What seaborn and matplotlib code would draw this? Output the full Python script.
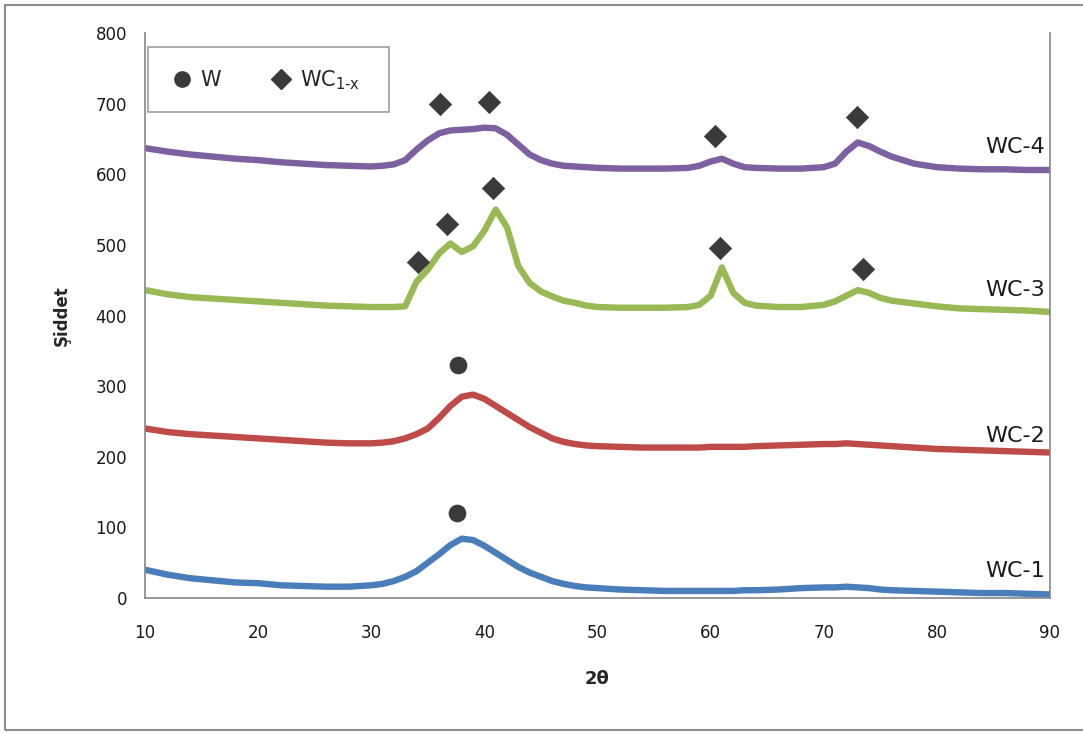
import matplotlib
matplotlib.use("Agg")
import matplotlib.pyplot as plt
import seaborn as sns
import pandas as pd
from matplotlib.lines import Line2D
from matplotlib.patches import Rectangle

# ---- data -------------------------------------------------------------
two_theta = [10, 12, 14, 16, 18, 20, 22, 24, 26, 28, 30, 31, 32, 33, 34, 35, 36, 37, 38, 39,
             40, 41, 42, 43, 44, 45, 46, 47, 48, 49, 50, 52, 54, 56, 58, 59, 60, 61, 62, 63,
             64, 66, 68, 70, 71, 72, 73, 74, 75, 76, 78, 80, 82, 84, 86, 88, 90]

wc1 = [40, 33, 28, 25, 22, 21, 18, 17, 16, 16, 18, 20, 24, 30, 38, 50, 62, 75, 84, 82,
       74, 64, 54, 44, 36, 30, 24, 20, 17, 15, 14, 12, 11, 10, 10, 10, 10, 10, 10, 11,
       11, 12, 14, 15, 15, 16, 15, 14, 12, 11, 10, 9, 8, 7, 7, 6, 5]

wc2 = [240, 235, 232, 230, 228, 226, 224, 222, 220, 219, 219, 220, 222, 226, 232, 240, 255, 272, 285, 288,
       282, 272, 262, 252, 242, 234, 226, 221, 218, 216, 215, 214, 213, 213, 213, 213, 214, 214, 214, 214,
       215, 216, 217, 218, 218, 219, 218, 217, 216, 215, 213, 211, 210, 209, 208, 207, 206]

wc3 = [436, 430, 426, 424, 422, 420, 418, 416, 414, 413, 412, 412, 412, 413, 448, 465, 488, 502, 490, 498,
       520, 550, 525, 470, 446, 434, 427, 421, 418, 414, 412, 411, 411, 411, 412, 415, 428, 468, 432, 418,
       414, 412, 412, 415, 420, 428, 436, 432, 425, 421, 417, 413, 410, 409, 408, 407, 405]

wc4 = [637, 632, 628, 625, 622, 620, 617, 615, 613, 612, 611, 612, 614, 620, 635, 648, 658, 662, 663, 664,
       666, 665, 656, 642, 628, 620, 615, 612, 611, 610, 609, 608, 608, 608, 609, 612, 618, 622, 615, 610,
       609, 608, 608, 610, 615, 632, 645, 640, 632, 625, 615, 610, 608, 607, 607, 606, 606]

series_names = ["WC-1", "WC-2", "WC-3", "WC-4"]
series_colors = ["#4A7EBB", "#BE4B48", "#98B954", "#7D60A0"]
label_y = [38, 229, 436, 638]

# phase markers
w_x = [37.6, 37.7]
w_y = [120, 330]
wc_x = [34.1, 36.7, 40.8, 60.8, 73.5, 36.1, 40.4, 60.4, 72.9]
wc_y = [476, 530, 581, 496, 466, 700, 703, 654, 681]

# ---- figure -----------------------------------------------------------
sns.set_style("white")
plt.rcParams["font.family"] = ["DejaVu Sans"]

fig = plt.figure(figsize=(10.83, 7.33), dpi=100)
ax = fig.add_axes([145 / 1083, 1 - 598 / 733, 905 / 1083, 565 / 733])

frames = []
for name, vals in zip(series_names, [wc1, wc2, wc3, wc4]):
    frames.append(pd.DataFrame({"two_theta": two_theta, "intensity": vals, "sample": name}))
df = pd.concat(frames, ignore_index=True)

sns.lineplot(data=df, x="two_theta", y="intensity", hue="sample",
             palette=dict(zip(series_names, series_colors)), linewidth=4.6,
             legend=False, ax=ax)

sns.scatterplot(x=w_x, y=w_y, marker="o", s=150, color="#3A3A3A", edgecolor="#3A3A3A",
                linewidth=0.5, ax=ax, zorder=5)
sns.scatterplot(x=wc_x, y=wc_y, marker="D", s=130, color="#3A3A3A", edgecolor="#3A3A3A",
                linewidth=0.5, ax=ax, zorder=5)

for name, ly in zip(series_names, label_y):
    ax.text(89.6, ly, name, ha="right", va="center", fontsize=16, color="#1a1a1a")

ax.set_xlim(10, 90)
ax.set_ylim(0, 800)
ax.set_xticks(range(10, 91, 10))
ax.set_yticks(range(0, 801, 100))
ax.tick_params(axis="both", which="major", direction="out", length=7, width=1,
               color="#868686", labelsize=12, labelcolor="#1a1a1a", pad=6)
ax.tick_params(axis="x", pad=12)
ax.set_xlabel("2θ", fontsize=13, fontweight="bold", labelpad=20)
ax.set_ylabel("Şiddet", fontsize=12, fontweight="bold", labelpad=18)

for side in ["left", "bottom", "right"]:
    ax.spines[side].set_visible(True)
    ax.spines[side].set_color("#868686")
    ax.spines[side].set_linewidth(1.2)
ax.spines["top"].set_visible(False)

handles = [
    Line2D([], [], marker="o", linestyle="none", markersize=11, color="#3A3A3A"),
    Line2D([], [], marker="D", linestyle="none", markersize=10, color="#3A3A3A"),
]
leg = ax.legend(handles, ["W", "WC$_{\\mathregular{1\u2010x}}$" + "  "], loc="upper left",
                bbox_to_anchor=(0.0035, 0.975), borderaxespad=0, ncol=2, fontsize=15,
                frameon=True, fancybox=False, edgecolor="#868686", borderpad=1.0,
                columnspacing=2.3, handletextpad=0.3, handlelength=1.2)
leg.get_frame().set_linewidth(1.2)

fig.patches.append(Rectangle((5 / 1083, 3 / 733), 1.1, 725 / 733, transform=fig.transFigure,
                             fill=False, edgecolor="#8c8c8c", linewidth=1.5))

fig.savefig("out.png", dpi=100)
